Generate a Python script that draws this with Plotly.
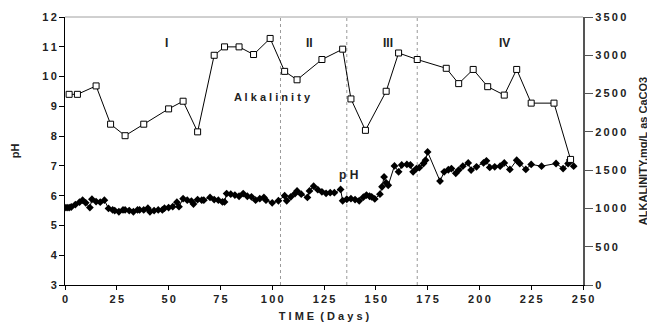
import plotly.graph_objects as go

# ---- data ----
ph_days = [0, 1, 2, 3, 5, 7, 8.5, 10, 12, 13, 15, 17, 19, 21, 23, 24, 26, 28, 29, 31,
           33, 35, 36, 38, 40, 41, 43, 45, 47, 48, 50, 52, 54, 55, 57, 59, 61, 62, 64, 66,
           67, 70, 72, 74, 76, 77, 78, 80, 82, 84, 86, 88, 90, 92, 94, 96, 97, 100, 103, 106,
           107, 109, 111, 112, 114, 117, 118, 120, 122, 124, 126, 128, 130, 133, 134, 136, 138, 140, 142, 144,
           145.5, 147, 148, 149.5, 152, 153, 154, 155, 156, 159, 161, 162.5, 165, 166.7, 168, 169.6, 171, 173, 174, 175,
           181, 183, 185, 186.5, 188.6, 190, 192, 194.6, 196, 198.6, 202, 203.4, 205, 207.4, 210, 212, 214.7, 218, 219.5, 222.4,
           225, 230, 237, 240.4, 242.8, 243.6, 245.5]
ph_values = [5.6, 5.6, 5.6, 5.62, 5.7, 5.78, 5.85, 5.76, 5.6, 5.88, 5.8, 5.78, 5.85, 5.57, 5.52, 5.5, 5.46, 5.52, 5.52, 5.5,
             5.46, 5.52, 5.52, 5.52, 5.58, 5.46, 5.5, 5.52, 5.52, 5.58, 5.6, 5.63, 5.78, 5.63, 5.9, 5.85, 5.82, 5.72, 5.87, 5.85,
             5.85, 5.94, 5.87, 5.85, 5.79, 5.79, 6.07, 6.05, 6.02, 5.98, 6.07, 5.98, 5.96, 5.85, 5.9, 5.94, 5.85, 5.76, 5.83, 6.0,
             5.83, 5.96, 6.07, 6.16, 6.05, 5.94, 6.16, 6.32, 6.2, 6.13, 6.08, 6.1, 6.1, 6.21, 5.83, 5.88, 5.9, 5.87, 5.83, 5.95,
             6.02, 5.98, 5.96, 5.89, 6.05, 6.3, 6.63, 6.43, 6.35, 7.0, 6.8, 7.03, 7.05, 7.03, 6.8, 6.91, 6.94, 7.08, 7.19, 7.47,
             6.49, 6.8, 6.87, 6.91, 6.75, 6.86, 6.99, 7.1, 6.86, 6.97, 7.1, 7.17, 6.95, 6.97, 6.99, 7.1, 6.88, 7.19, 7.08, 6.88,
             7.05, 6.99, 7.08, 6.91, 7.08, 7.2, 6.99]

alk_days = [2, 6, 15, 22, 29, 38, 50, 57, 64, 72, 77, 84, 91, 99, 106, 112, 124, 134, 138, 145,
            155, 161, 170, 184, 190, 197, 204, 212, 218, 225, 236, 244]
alk_values = [2490, 2490, 2600, 2100, 1950, 2100, 2300, 2400, 2000, 3000, 3110, 3110, 3010, 3220, 2790, 2680,
              2945, 3080, 2430, 2020, 2530, 3030, 2945, 2830, 2630, 2815, 2590, 2480, 2815, 2375, 2375, 1640]

phase_bounds = [104, 136, 170]
phase_labels = ["I", "II", "III", "IV"]
phase_label_days = [49, 118, 156, 212]

x_ticks = list(range(0, 251, 25))
ph_ticks = list(range(3, 13))
alk_ticks = list(range(0, 3501, 500))

FONT = "Liberation Sans, Arial, sans-serif"
HS = "\u2009"

def spaced(s):
    return HS.join(list(str(s)))

fig = go.Figure()

fig.add_trace(go.Scatter(
    x=alk_days, y=alk_values, yaxis="y2", mode="lines+markers",
    line=dict(color="black", width=1),
    marker=dict(symbol="square", size=6, color="white", line=dict(color="black", width=1)),
    showlegend=False, name="Alkalinity"))

fig.add_trace(go.Scatter(
    x=ph_days, y=ph_values, mode="lines+markers",
    line=dict(color="black", width=1),
    marker=dict(symbol="diamond", size=6, color="black"),
    showlegend=False, name="pH"))

shapes = []
for d in phase_bounds:
    shapes.append(dict(type="line", xref="x", yref="paper", x0=d, x1=d, y0=0, y1=1,
                       line=dict(color="#9a9a9a", width=1, dash="dot"), layer="below"))
shapes.append(dict(type="line", xref="paper", yref="paper", x0=0, x1=1, y0=1, y1=1,
                   line=dict(color="#a0a0a0", width=1)))

annotations = []
for lab, d in zip(phase_labels, phase_label_days):
    annotations.append(dict(x=d, y=11.13, xref="x", yref="y", text="<b>%s</b>" % lab,
                            showarrow=False, font=dict(family=FONT, size=12, color="#222")))
annotations.append(dict(x=100, y=9.3, xref="x", yref="y", text="<b>A l k a l i n i t y</b>",
                        showarrow=False, font=dict(family=FONT, size=11, color="#222")))
annotations.append(dict(x=137, y=6.68, xref="x", yref="y", text="<b>p H</b>",
                        showarrow=False, font=dict(family=FONT, size=12, color="#222")))

fig.update_layout(
    width=647, height=319,
    margin=dict(l=57, r=72, t=9, b=42),
    paper_bgcolor="white", plot_bgcolor="white",
    font=dict(family=FONT, size=11, color="#222"),
    shapes=shapes, annotations=annotations,
    xaxis=dict(range=[0, 250], tickvals=x_ticks, ticktext=["<b>%s</b>" % spaced(v) for v in x_ticks],
               ticks="outside", ticklen=4, tickcolor="black", automargin=False,
               showline=True, linecolor="black", linewidth=1, showgrid=False, zeroline=False,
               title=dict(text="<b>T I M E  ( D a y s )</b>", font=dict(size=11), standoff=8)),
    yaxis=dict(range=[3, 12], tickvals=ph_ticks, ticktext=["<b>%s</b>" % spaced(v) for v in ph_ticks],
               ticks="outside", ticklen=5, tickcolor="black", automargin=False,
               showline=True, linecolor="black", linewidth=1, showgrid=False, zeroline=False,
               title=dict(text="<b>pH</b>", font=dict(size=11), standoff=20)),
    yaxis2=dict(range=[0, 3500], tickvals=alk_ticks, ticktext=["<b>%s</b>" % spaced(v) for v in alk_ticks],
                overlaying="y", side="right", anchor="x", automargin=False,
                ticks="outside", ticklen=8, tickcolor="#555",
                showline=True, linecolor="#555", linewidth=2, showgrid=False, zeroline=False,
                title=dict(text="<b>ALKALINITY,mg/L as CaCO3</b>", font=dict(size=11), standoff=14)),
    yaxis3=dict(range=[0, 3500], tickvals=alk_ticks, overlaying="y", side="right", anchor="x",
                ticks="inside", ticklen=8, tickcolor="#555", showticklabels=False, automargin=False,
                showline=False, showgrid=False, zeroline=False),
)

fig.write_html("out.html")
